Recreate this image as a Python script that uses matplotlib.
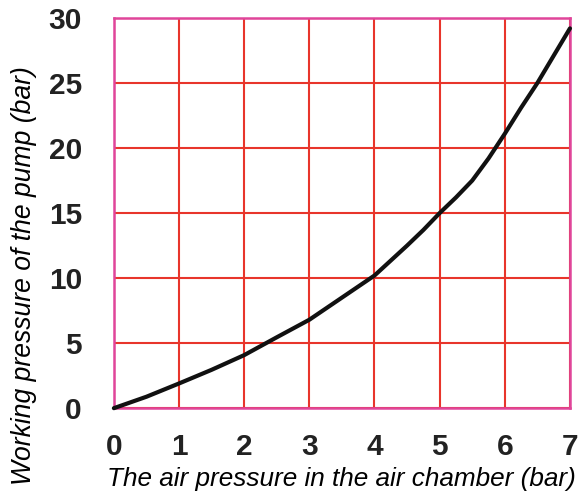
import matplotlib.pyplot as plt
import numpy as np

# air chamber pressure (bar) vs working pressure of the pump (bar)
air_pressure = [0, 0.5, 1, 1.5, 2, 2.5, 3, 3.5, 4, 4.5, 4.75, 5, 5.25, 5.5, 5.75, 6, 6.25, 6.5, 6.75, 7]
work_pressure = [0, 0.88, 1.9, 2.95, 4.08, 5.45, 6.8, 8.5, 10.2, 12.5, 13.7, 15.0, 16.2, 17.5, 19.2, 21.1, 23.1, 25.0, 27.1, 29.2]

x_ticks = [0, 1, 2, 3, 4, 5, 6, 7]
y_ticks = [0, 5, 10, 15, 20, 25, 30]

plt.rcParams['font.family'] = ['Liberation Sans', 'DejaVu Sans']

fig = plt.figure(figsize=(5.81, 4.99), dpi=100)
ax = fig.add_axes([0.196, 0.182, 0.785, 0.782])

ax.plot(air_pressure, work_pressure, color='#111111', lw=3.0,
        solid_capstyle='round', solid_joinstyle='round', clip_on=False, zorder=3)

ax.set_xlim(0, 7)
ax.set_ylim(0, 30)
ax.set_xticks(x_ticks)
ax.set_yticks(y_ticks)
ax.grid(True, color='#e8352b', lw=1.5)
ax.set_axisbelow(True)
for s in ax.spines.values():
    s.set_color('#e0459a')
    s.set_linewidth(1.8)

ax.tick_params(length=0, labelsize=21.5)
ax.tick_params(axis='x', pad=18)
ax.tick_params(axis='y', pad=23)
for lbl in ax.get_xticklabels() + ax.get_yticklabels():
    lbl.set_fontweight('bold')
    lbl.set_color('#222222')

ax.set_xlabel('The air pressure in the air chamber (bar)', fontsize=18.8,
              fontstyle='italic', labelpad=4)
ax.set_ylabel('Working pressure of the pump (bar)', fontsize=19.1,
              fontstyle='italic', va='center')
# y label sits a little below the middle of the axis
ax.yaxis.set_label_coords(-0.197, 0.34)

fig.savefig('out.png', dpi=100)
